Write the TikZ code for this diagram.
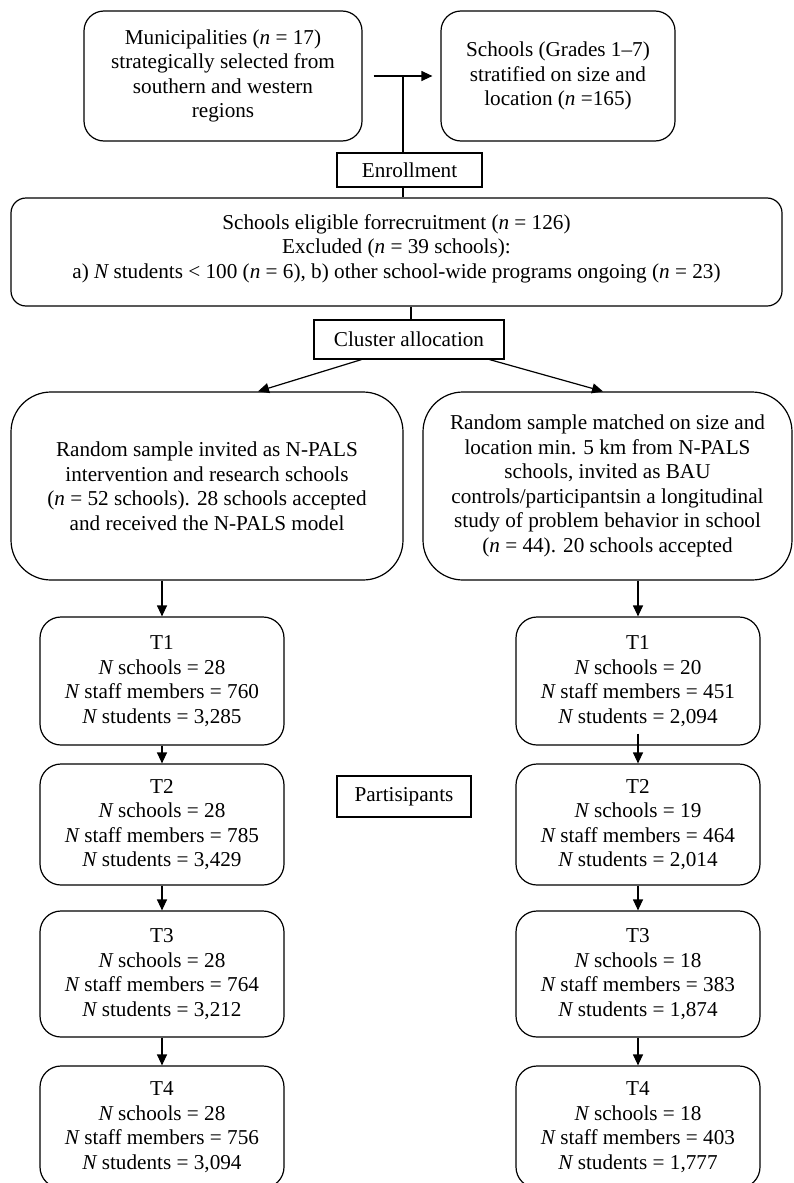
\documentclass[tikz,border=0pt]{standalone}
\usepackage{fontspec}
\setmainfont{Liberation Serif}
\usetikzlibrary{arrows.meta}
\begin{document}
\begin{tikzpicture}[x=1pt,y=-1pt,
  every node/.style={font=\fontsize{21.2}{24.5}\selectfont, align=center, inner sep=0pt},
  rbox/.style={draw, line width=1.2pt, rounded corners=#1},
  rbox/.default=20pt,
  sbox/.style={draw, line width=1.2pt},
  tbox/.style={rbox=21pt, minimum width=244pt},
  conn/.style={line width=1.2pt},
  arr/.style={conn, -{Triangle[length=11pt,width=10pt]}},
]
\fill[white] (0,0) rectangle (794,1183);
\useasboundingbox (0,0) rectangle (794,1183);

\node[rbox, minimum width=278pt, minimum height=130pt] (mu) at (223,76)
  {Municipalities ({\itshape n} = 17)\\strategically selected from\\southern and western\\regions};
\node[rbox, minimum width=234pt, minimum height=130pt] (sc) at (558,76)
  {Schools (Grades 1–7)\\stratified on size and\\location ({\itshape n} =165)};
\node[sbox, minimum width=145pt, minimum height=34pt] (en) at (409.5,170) {Enrollment};
\node[rbox=15pt, minimum width=771pt, minimum height=108pt] (el) at (396.5,252) {};
\node (elt) at (396.5,248.5)
  {Schools eligible forrecruitment ({\itshape n} = 126)\\Excluded ({\itshape n} = 39 schools):\\a) {\itshape N} students < 100 ({\itshape n} = 6), b) other school-wide programs ongoing ({\itshape n} = 23)};
\node[sbox, minimum width=190pt, minimum height=39pt] (cl) at (409,339.5) {Cluster allocation};
\node[rbox=40pt, minimum width=392pt, minimum height=188pt] (rl) at (207,486)
  {Random sample invited as N-PALS\\intervention and research schools\\({\itshape n} = 52 schools). 28 schools accepted\\and received the N-PALS model};
\node[rbox=40pt, minimum width=369pt, minimum height=188pt] (rr) at (607.5,486)
  {Random sample matched on size and\\location min. 5 km from N-PALS\\schools, invited as BAU\\controls/participantsin a longitudinal\\study of problem behavior in school\\({\itshape n} = 44). 20 schools accepted};
\node[sbox, minimum width=134pt, minimum height=41pt] (pa) at (404,796.5) {Partisipants};

\node[tbox, minimum height=128pt] (l1) at (162,681)
  {T1\\{\itshape N} schools = 28\\{\itshape N} staff members = 760\\{\itshape N} students = 3,285};
\node[tbox, minimum height=121pt] (l2) at (162,824.5)
  {T2\\{\itshape N} schools = 28\\{\itshape N} staff members = 785\\{\itshape N} students = 3,429};
\node[tbox, minimum height=126pt] (l3) at (162,974)
  {T3\\{\itshape N} schools = 28\\{\itshape N} staff members = 764\\{\itshape N} students = 3,212};
\node[tbox, minimum height=122pt] (l4) at (162,1127)
  {T4\\{\itshape N} schools = 28\\{\itshape N} staff members = 756\\{\itshape N} students = 3,094};

\node[tbox, minimum height=128pt] (r1) at (638,681)
  {T1\\{\itshape N} schools = 20\\{\itshape N} staff members = 451\\{\itshape N} students = 2,094};
\node[tbox, minimum height=121pt] (r2) at (638,824.5)
  {T2\\{\itshape N} schools = 19\\{\itshape N} staff members = 464\\{\itshape N} students = 2,014};
\node[tbox, minimum height=126pt] (r3) at (638,974)
  {T3\\{\itshape N} schools = 18\\{\itshape N} staff members = 383\\{\itshape N} students = 1,874};
\node[tbox, minimum height=122pt] (r4) at (638,1127)
  {T4\\{\itshape N} schools = 18\\{\itshape N} staff members = 403\\{\itshape N} students = 1,777};

\coordinate (j) at (403,76);
\coordinate (k) at (411,0);
\draw[arr] ([xshift=11pt]mu.east) -- ([xshift=-8pt]sc.west);
\draw[conn] (j) -- (j |- en.north);
\draw[conn] (j |- en.south) -- (j |- el.north);
\draw[conn] (k |- el.south) -- (k |- cl.north);
\draw[arr] ([xshift=48pt]cl.south west) -- ([xshift=51pt]rl.north);
\draw[arr] ([xshift=-15pt]cl.south east) -- ([xshift=-4.5pt]rr.north);
\draw[arr] (rl.south -| l1.north) -- (l1.north);
\draw[arr] (rr.south -| r1.north) -- (r1.north);
\draw[arr] (l1.south) -- (l2.north);
\draw[arr] (l2.south) -- (l3.north);
\draw[arr] (l3.south) -- (l4.north);
\draw[arr] ([yshift=12pt]r1.south) -- (r2.north);
\draw[arr] (r2.south) -- (r3.north);
\draw[arr] (r3.south) -- (r4.north);
\end{tikzpicture}
\end{document}
